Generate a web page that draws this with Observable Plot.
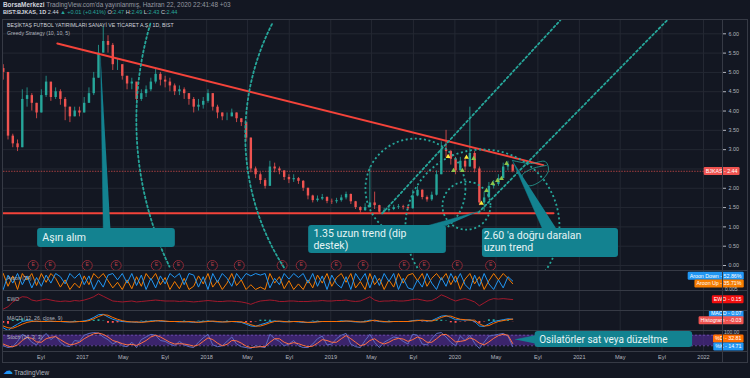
<!DOCTYPE html>
<html><head><meta charset="utf-8">
<script src="https://cdn.jsdelivr.net/npm/d3@7"></script>
<script src="https://cdn.jsdelivr.net/npm/@observablehq/plot@0.6"></script>
<style>
html,body{margin:0;padding:0;background:#131722;}
#wrap{position:relative;width:750px;height:378px;overflow:hidden;background:#131722;font-family:"Liberation Sans",Arial,sans-serif;}
#wrap svg{position:absolute;left:0;}
.t{position:absolute;white-space:nowrap;line-height:1;z-index:3;}
.ln{position:absolute;background:#363a45;z-index:2;}
</style></head><body>
<div id="wrap">
  <div class="t" style="left:3px;top:2px;font-size:6.4px;color:#9598a1"><b style="color:#d1d4dc">BorsaMerkezi</b> TradingView.com'da yayınlanmış, Haziran 22, 2020 22:41:48 +03</div>
  <div class="t" style="left:3px;top:10px;font-size:5.6px;color:#d1d4dc"><b>BIST:BJKAS, 1D</b> 2.44 <span style="color:#26a69a">▲ +0.01 (+0.41%)</span> O:<span style="color:#26a69a">2.47</span> H:<span style="color:#26a69a">2.49</span> L:<span style="color:#26a69a">2.43</span> C:<span style="color:#26a69a">2.44</span></div>
  <div class="t" style="left:7px;top:23px;font-size:5.2px;color:#d1d4dc">BEŞİKTAŞ FUTBOL YATIRIMLARI SANAYİ VE TİCARET A.Ş., 1D, BIST</div>
  <div class="t" style="left:7px;top:30.5px;font-size:5.2px;color:#b2b5be">Greedy Strategy (10, 10, 5)</div>
  <div class="t" style="left:7px;top:276px;font-size:5.2px;color:#b2b5be">Aroon (34)</div>
  <div class="t" style="left:7px;top:297px;font-size:5.2px;color:#b2b5be">EWO</div>
  <div class="t" style="left:7px;top:316px;font-size:5.2px;color:#b2b5be">MACD (12, 26, close, 9)</div>
  <div class="t" style="left:7px;top:335px;font-size:5.2px;color:#b2b5be">Stoch (14, 3, 3)</div>
  <div class="t" style="left:725px;top:286.5px;font-size:5px;color:#b2b5be">0.005</div>
  <div class="t" style="left:724px;top:329.5px;font-size:5px;color:#b2b5be">100.00</div>
  <div class="t" style="left:3px;top:366px;font-size:10px;color:#2196f3">☁</div>
  <div class="t" style="left:14px;top:370px;font-size:6.4px;color:#b2b5be">TradingView</div>
  <div class="ln" style="left:2px;top:19px;width:746px;height:1px"></div>
  <div class="ln" style="left:2px;top:362px;width:746px;height:1px"></div>
  <div class="ln" style="left:2px;top:19px;width:1px;height:344px"></div>
  <div class="ln" style="left:747px;top:19px;width:1px;height:344px"></div>
  <div class="ln" style="left:722px;top:19px;width:1px;height:344px"></div>
  <div class="ln" style="left:2px;top:270px;width:746px;height:1px"></div>
  <div class="ln" style="left:2px;top:290px;width:746px;height:1px"></div>
  <div class="ln" style="left:2px;top:310px;width:746px;height:1px"></div>
  <div class="ln" style="left:2px;top:330px;width:746px;height:1px"></div>
  <div class="ln" style="left:2px;top:351px;width:746px;height:1px"></div>
</div>
<script>
// ---------- DATA (biweekly bars) ----------
const firstDate = "2016-05-13";
const firstOpen = 5.10;
const close = [
  5.00, 3.35, 3.15, 3.05, 4.30, 4.40, 4.20, 3.95, 4.40, 4.75, 4.35, 4.50,
  4.30, 4.10, 3.85, 4.00, 3.95, 4.20, 4.45, 4.85, 5.50, 5.80, 5.70, 5.20,
  5.20, 4.90, 4.70, 4.75, 4.30, 4.45, 4.55, 4.75, 4.95, 4.80, 4.75, 4.65,
  4.50, 4.55, 4.45, 4.30, 4.10, 4.15, 4.25, 4.45, 4.10, 3.95, 3.85, 3.85,
  3.95, 3.80, 3.70, 3.30, 2.50, 2.35, 2.20, 2.05, 2.55, 2.50, 2.45, 2.28,
  2.22, 2.25, 2.18, 2.00, 1.80, 1.68, 1.72, 1.76, 1.66, 1.65, 1.68, 1.75,
  1.84, 1.65, 1.50, 1.42, 1.50, 1.62, 1.55, 1.38, 1.42, 1.45, 1.50, 1.52,
  1.50, 1.47, 1.80, 1.95, 1.76, 1.70, 1.82, 2.35, 3.00, 2.95, 2.75, 2.45,
  2.70, 2.55, 2.90, 2.50, 1.62, 1.75, 2.05, 2.10, 2.25, 2.55, 2.60, 2.44
];
const high = [
  5.20, 4.80, 3.40, 3.25, 4.55, 4.60, 4.45, 4.20, 4.55, 4.90, 4.70, 4.60,
  4.55, 4.35, 4.10, 4.10, 4.10, 4.35, 4.60, 5.00, 5.70, 6.20, 5.95, 5.75,
  5.35, 5.20, 4.90, 4.85, 4.70, 4.55, 4.65, 4.85, 5.10, 5.00, 4.90, 4.85,
  4.70, 4.65, 4.60, 4.45, 4.35, 4.30, 4.35, 4.55, 4.45, 4.15, 3.95, 3.95,
  4.05, 3.95, 3.80, 3.70, 3.30, 2.55, 2.40, 2.25, 2.70, 2.65, 2.55, 2.45,
  2.35, 2.35, 2.28, 2.20, 2.00, 1.82, 1.80, 1.84, 1.78, 1.72, 1.74, 1.82,
  1.90, 1.85, 1.66, 1.52, 1.60, 2.55, 1.90, 1.56, 1.48, 1.52, 1.56, 1.58,
  1.56, 1.55, 1.95, 2.05, 1.96, 1.80, 1.90, 2.45, 3.20, 3.50, 2.98, 2.80,
  2.80, 2.75, 4.10, 2.95, 2.55, 1.90, 2.15, 2.20, 2.35, 2.65, 2.70, 2.62
];
const low = [
  4.80, 3.25, 3.05, 2.95, 3.05, 4.10, 4.00, 3.80, 3.95, 4.35, 4.25, 4.30,
  4.15, 3.75, 3.70, 3.85, 3.85, 3.95, 4.20, 4.40, 4.85, 5.50, 5.50, 5.05,
  5.05, 4.80, 4.55, 4.55, 4.20, 4.25, 4.35, 4.50, 4.70, 4.65, 4.60, 4.50,
  4.40, 4.40, 4.30, 4.15, 3.95, 4.00, 4.05, 4.20, 4.00, 3.80, 3.75, 3.75,
  3.85, 3.70, 3.60, 3.20, 2.40, 2.25, 2.10, 1.98, 2.05, 2.40, 2.35, 2.20,
  2.12, 2.15, 2.10, 1.92, 1.70, 1.62, 1.64, 1.68, 1.60, 1.58, 1.60, 1.64,
  1.70, 1.58, 1.45, 1.36, 1.40, 1.48, 1.45, 1.33, 1.35, 1.38, 1.42, 1.45,
  1.44, 1.42, 1.46, 1.78, 1.70, 1.64, 1.66, 1.80, 2.35, 2.80, 2.60, 2.35,
  2.45, 2.45, 2.55, 2.40, 1.55, 1.40, 1.75, 1.98, 2.05, 2.25, 2.45, 2.40
];
const aroonUp = [
  100, 20, 85, 0, 100, 60, 100, 25, 100, 45, 100, 70,
  15, 60, 0, 40, 10, 85, 30, 100, 70, 100, 55, 10,
  45, 0, 60, 5, 80, 20, 100, 60, 100, 30, 75, 0,
  50, 5, 70, 0, 20, 85, 35, 100, 15, 55, 0, 40,
  100, 25, 60, 0, 30, 0, 15, 0, 100, 40, 80, 5,
  55, 0, 35, 0, 60, 10, 90, 40, 100, 20, 75, 100,
  45, 100, 10, 50, 0, 100, 30, 70, 0, 60, 15, 100,
  40, 90, 100, 55, 100, 20, 70, 100, 60, 100, 30, 85,
  0, 65, 100, 35, 80, 0, 55, 100, 60, 100, 70, 36
];
const aroonDown = [
  0, 90, 40, 100, 30, 85, 10, 75, 20, 90, 40, 100,
  80, 35, 100, 70, 100, 30, 85, 0, 60, 15, 90, 100,
  60, 100, 40, 100, 25, 90, 0, 70, 10, 85, 35, 100,
  75, 100, 30, 100, 90, 15, 80, 0, 100, 45, 100, 70,
  20, 100, 60, 100, 85, 100, 90, 100, 10, 70, 30, 100,
  65, 100, 75, 100, 40, 100, 20, 85, 0, 90, 35, 10,
  80, 0, 100, 55, 100, 10, 90, 25, 100, 50, 100, 0,
  70, 10, 0, 60, 15, 100, 40, 0, 75, 20, 100, 45,
  100, 30, 0, 90, 20, 100, 35, 0, 60, 10, 80, 53
];
const ewo = [
  -0.85, -0.6, -0.1, 0.2, 0.45, 0.4, 0.1, 0.0, 0.1, 0.2, 0.1, 0.0,
  -0.05, 0.0, -0.05, 0.05, 0.0, 0.1, 0.25, 0.45, 0.75, 0.5, 0.25, 0.0,
  -0.05, -0.1, -0.05, 0.0, -0.1, -0.05, 0.0, 0.05, 0.1, 0.05, 0.0, 0.0,
  0.0, -0.05, 0.0, -0.05, -0.1, -0.05, 0.0, 0.05, 0.0, -0.05, -0.05, 0.0,
  0.0, -0.05, -0.1, -0.2, -0.35, -0.15, 0.0, 0.05, 0.1, 0.05, -0.05, -0.05,
  0.0, 0.0, -0.05, -0.05, -0.05, 0.0, 0.0, 0.05, 0.0, 0.0, 0.05, 0.05,
  0.1, 0.0, -0.05, 0.0, 0.2, 0.45, 0.1, -0.05, 0.0, 0.0, 0.05, 0.0,
  0.0, 0.05, 0.15, 0.2, 0.1, 0.0, 0.05, 0.3, 0.65, 0.45, 0.2, 0.0,
  0.15, 0.25, 0.1, -0.1, -0.5, -0.2, 0.1, 0.25, 0.2, 0.25, 0.2, 0.15
];
const macd = [
  -0.7, -1.0, -0.6, -0.3, 0.0, 0.1, 0.05, 0.0, 0.0, 0.05, 0.0, 0.0,
  0.0, -0.05, -0.05, 0.0, 0.0, 0.05, 0.2, 0.45, 0.75, 0.8, 0.5, 0.25,
  0.1, 0.0, -0.05, -0.05, -0.1, -0.05, 0.0, 0.05, 0.1, 0.05, 0.0, 0.0,
  0.0, -0.05, 0.0, -0.05, -0.1, -0.05, 0.0, 0.05, 0.0, -0.05, -0.05, 0.0,
  0.0, -0.05, -0.1, -0.3, -0.5, -0.55, -0.35, -0.2, 0.0, 0.05, 0.0, -0.05,
  0.0, 0.0, -0.05, -0.1, -0.1, -0.05, 0.0, 0.0, 0.0, 0.0, 0.0, 0.05,
  0.05, 0.0, -0.05, -0.05, 0.0, 0.15, 0.1, 0.0, -0.05, 0.0, 0.0, 0.0,
  0.0, 0.0, 0.1, 0.15, 0.1, 0.05, 0.1, 0.35, 0.6, 0.65, 0.45, 0.2,
  0.2, 0.15, 0.2, 0.0, -0.5, -0.55, -0.25, 0.0, 0.1, 0.2, 0.3, 0.25
];
const signal = [
  -0.5, -0.7, -0.75, -0.55, -0.3, -0.1, 0.0, 0.05, 0.0, 0.0, 0.05, 0.0,
  0.0, 0.0, -0.05, -0.05, 0.0, 0.0, 0.1, 0.3, 0.55, 0.75, 0.7, 0.45,
  0.25, 0.1, 0.0, -0.05, -0.05, -0.1, -0.05, 0.0, 0.05, 0.1, 0.05, 0.0,
  0.0, 0.0, -0.05, 0.0, -0.05, -0.1, -0.05, 0.0, 0.05, 0.0, -0.05, -0.05,
  0.0, 0.0, -0.05, -0.15, -0.35, -0.5, -0.5, -0.35, -0.15, 0.0, 0.05, 0.0,
  -0.05, 0.0, 0.0, -0.05, -0.1, -0.1, -0.05, 0.0, 0.0, 0.0, 0.0, 0.0,
  0.05, 0.05, 0.0, -0.05, -0.05, 0.05, 0.15, 0.05, 0.0, -0.05, 0.0, 0.0,
  0.0, 0.0, 0.05, 0.1, 0.15, 0.1, 0.05, 0.2, 0.45, 0.6, 0.6, 0.4,
  0.25, 0.2, 0.15, 0.15, -0.25, -0.5, -0.45, -0.2, 0.0, 0.1, 0.2, 0.27
];
const stochK = [
  20, 10, 15, 45, 85, 70, 40, 25, 60, 90, 55, 75,
  40, 20, 15, 50, 45, 80, 90, 95, 92, 70, 55, 30,
  45, 20, 15, 40, 10, 55, 70, 85, 80, 50, 45, 30,
  20, 45, 25, 15, 10, 40, 65, 85, 25, 15, 20, 45,
  70, 30, 15, 10, 5, 20, 15, 10, 85, 60, 45, 20,
  30, 50, 20, 10, 10, 30, 60, 75, 25, 30, 60, 80,
  90, 30, 15, 10, 50, 85, 40, 10, 40, 55, 70, 65,
  45, 30, 85, 80, 30, 25, 60, 90, 95, 70, 40, 20,
  75, 50, 80, 35, 5, 40, 75, 80, 85, 90, 75, 15
];
const stochD = [
  30, 18, 14, 25, 50, 68, 62, 42, 40, 60, 68, 72,
  55, 38, 25, 30, 40, 60, 75, 88, 92, 85, 70, 50,
  42, 32, 25, 28, 22, 35, 50, 70, 80, 70, 55, 40,
  30, 32, 30, 25, 18, 25, 45, 65, 55, 35, 20, 28,
  50, 48, 35, 18, 10, 12, 15, 15, 40, 60, 60, 40,
  30, 38, 32, 22, 15, 18, 35, 55, 50, 40, 40, 60,
  78, 60, 40, 20, 28, 50, 60, 40, 30, 40, 55, 62,
  58, 45, 55, 70, 60, 40, 40, 60, 82, 85, 65, 42,
  45, 50, 65, 55, 35, 25, 42, 62, 78, 85, 80, 33
];
const priceTicks = [0, 0.5, 1, 1.5, 2, 2.5, 3, 3.5, 4, 4.5, 5, 5.5, 6];
const priceTickLabels = [0, 0.5, 1, 1.5, 2, 3, 3.5, 4, 4.5, 5, 5.5, 6]; // 2.50 hidden under the price badge
const timeTickDates = ["2016-09-01","2017-01-01","2017-05-01","2017-09-01","2018-01-01","2018-05-01","2018-09-01","2019-01-01","2019-05-01","2019-09-01","2020-01-01","2020-05-01","2020-09-01","2021-01-01","2021-05-01","2021-09-01","2022-01-01"];
const timeTickLabels = ["Eyl","2017","May","Eyl","2018","May","Eyl","2019","May","Eyl","2020","May","Eyl","2021","May","Eyl","2022"];
const earningsDates = ["2016-08-09","2016-09-28","2017-01-15","2017-04-10","2017-08-06","2017-10-10","2018-01-18","2018-04-07","2018-08-11","2018-10-06","2019-01-17","2019-04-06","2019-08-05","2019-10-03","2020-01-08","2020-04-15"];
const lastPrice = 2.44;

// ---------- drawings (in chart units) ----------
const trendDown = [["2016-10-19", 5.75], ["2020-09-17", 2.60]];
const support = [["2016-05-12", 1.35], ["2020-10-17", 1.35]];
const fans = [
  [["2019-06-01", 1.35], ["2020-11-06", 6.35]],
  [["2020-03-10", 1.37], ["2021-09-16", 6.35]]
];
const fibCircles = [
  {date: "2019-09-07", price: 1.99, r: 50},
  {date: "2020-02-04", price: 1.55, r: 24},
  {date: "2020-03-22", price: 1.01, r: 77}
];
const fibArcs = [
  {date: "2020-03-04", price: 3.76, r: 340},
  {date: "2020-04-14", price: 3.37, r: 245}
];
const scribble = [["2020-06-18", 2.72], ["2020-08-10", 2.64], ["2020-09-23", 2.69], ["2020-10-02", 2.46], ["2020-09-08", 2.18], ["2020-08-04", 2.07], ["2020-07-17", 2.33], ["2020-08-16", 2.51], ["2020-09-26", 2.59]];
const greedyYellow = [["2019-12-12", 2.82], ["2020-02-04", 2.80], ["2020-03-19", 1.61]];
const greedyGreen = [["2019-12-28", 2.46], ["2020-01-23", 2.46], ["2020-02-25", 2.77], ["2020-04-03", 1.94], ["2020-04-21", 2.12], ["2020-05-05", 2.20], ["2020-05-17", 2.25], ["2020-06-01", 2.64]];
const callouts = [
  {text: "Aşırı alım", tx: "2016-09-05", ty: 0.725, anchor: "middle", box: ["2016-08-22", "2017-10-01", 0.466, 0.96], wedge: [["2017-02-23", 5.41], ["2017-03-03", 0.96], ["2017-03-24", 0.96]]},
  {text: "1.35 uzun trend (dip\ndestek)", tx: "2018-11-11", ty: 0.958, anchor: "top", box: ["2018-10-28", "2019-12-07", 0.311, 1.036], wedge: [["2020-03-10", 1.40], ["2019-10-15", 1.036], ["2019-12-07", 1.036]]},
  {text: "2.60 'a doğru daralan\nuzun trend", tx: "2020-03-26", ty: 0.907, anchor: "top", box: ["2020-03-22", "2021-04-26", 0.207, 0.958], wedge: [["2020-06-18", 2.72], ["2020-09-14", 0.958], ["2020-10-25", 0.958]]}
];
const oscCallout = {text: "Osilatörler sat veya düzeltme", tx: "2020-09-05", ty: 55, box: ["2020-08-24", "2021-11-30", 10.4, 101], wedge: [["2020-06-27", 55], ["2020-08-24", 78], ["2020-08-24", 32.8]]};

// ---------- build ----------
const wrap = document.getElementById("wrap");
const D = s => new Date(s);
const dates = close.map((_, i) => d3.utcDay.offset(D(firstDate), 14 * i));
const candles = close.map((c, i) => ({date: dates[i], open: i ? close[i - 1] : firstOpen, high: high[i], low: low[i], close: c}));
const upC = candles.filter(d => d.close >= d.open), dnC = candles.filter(d => d.close < d.open);
const ind = dates.map((date, i) => ({date, up: aroonUp[i], down: aroonDown[i], ewo: ewo[i], macd: macd[i], signal: signal[i], hist: macd[i] - signal[i], k: stochK[i], d: stochD[i]}));
const timeTicks = timeTickDates.map((s, i) => ({date: D(s), label: timeTickLabels[i]}));

const W = 750, GRID = "#242833", TEXT = "#b2b5be", UP = "#26a69a", DOWN = "#ef5350", TEAL = "#26a69a", BOX = "#138290", RED = "#f4433a";
const X0 = D("2017-01-01"), X1 = D("2022-01-01");
const xOpt = {type: "utc", domain: [X0, X1], range: [82, 703], axis: null};
const pxPerMs = 621 / (X1 - X0), pxPerPrice = (245 - 13.3) / 6;
const dash = {stroke: TEAL, strokeWidth: 1.8, strokeDasharray: "2,2.6", fill: "none", clip: true};
const pts = arr => arr.map(([d, v]) => ({date: D(d), v}));

function arcPoints(a) {
  const out = [];
  for (let k = 0; k <= 120; k++) {
    const th = Math.PI / 2 + Math.PI * k / 120;
    const price = a.price + a.r * Math.sin(th) / pxPerPrice;
    const date = new Date(+D(a.date) + a.r * Math.cos(th) / pxPerMs);
    if (price > 6.34 || price < -0.12) continue;
    out.push({date, v: price});
  }
  return out;
}

function addBadges(svg) {
  svg.querySelectorAll('g[aria-description^="badge"]').forEach(g => {
    const bg = g.getAttribute("aria-description").split(" ")[1];
    g.querySelectorAll("text").forEach(t => {
      const bb = t.getBBox();
      const r = document.createElementNS("http://www.w3.org/2000/svg", "rect");
      r.setAttribute("x", bb.x - 2); r.setAttribute("y", bb.y - 1);
      r.setAttribute("width", bb.width + 4); r.setAttribute("height", bb.height + 2);
      r.setAttribute("rx", 1.2); r.setAttribute("fill", bg);
      if (t.getAttribute("transform")) r.setAttribute("transform", t.getAttribute("transform"));
      t.parentNode.insertBefore(r, t);
    });
  });
}

function pane(top, height, opts) {
  const svg = Plot.plot({
    width: W, height, marginLeft: 3, marginRight: 28, marginTop: 0, marginBottom: 0,
    x: xOpt, ...opts,
    style: {background: "transparent", color: TEXT, fontFamily: "Liberation Sans, Arial, sans-serif", fontSize: "5.4px", overflow: "hidden"}
  });
  svg.style.top = top + "px";
  wrap.insertBefore(svg, wrap.firstChild);
  addBadges(svg);
  return svg;
}
const badge = (items, bg, extra = {}) => Plot.text(items, {y: "y", text: "t", frameAnchor: "right", dx: 19, textAnchor: "end", fill: "white", fontSize: 5.3, ariaDescription: "badge " + bg, ...extra});
const vgrid = () => Plot.ruleX(timeTicks, {x: "date", stroke: GRID, strokeWidth: 1});

// main pane
const mainMarks = [
  vgrid(),
  Plot.ruleY(priceTicks, {stroke: GRID}),
  Plot.ruleY([lastPrice], {stroke: DOWN, strokeWidth: 0.8, strokeDasharray: "1.5,1.2", strokeOpacity: 0.85}),
  Plot.ruleX(upC, {x: "date", y1: "low", y2: "high", stroke: UP, strokeWidth: 0.8}),
  Plot.ruleX(dnC, {x: "date", y1: "low", y2: "high", stroke: DOWN, strokeWidth: 0.8}),
  Plot.ruleX(upC, {x: "date", y1: "open", y2: "close", stroke: UP, strokeWidth: 2.4}),
  Plot.ruleX(dnC, {x: "date", y1: "open", y2: "close", stroke: DOWN, strokeWidth: 2.4}),
  Plot.dot(earningsDates, {x: d => D(d), frameAnchor: "bottom", dy: -5, r: 5, stroke: "#8e2a36", strokeWidth: 1, fill: "#131722"}),
  Plot.text(earningsDates, {x: d => D(d), frameAnchor: "bottom", dy: -5, text: () => "E", fill: "#b8404b", fontSize: 5}),
  Plot.line(pts(trendDown), {x: "date", y: "v", stroke: RED, strokeWidth: 2, clip: true}),
  Plot.line(pts(support), {x: "date", y: "v", stroke: RED, strokeWidth: 2, clip: true}),
  ...fans.map(f => Plot.line(pts(f), {x: "date", y: "v", ...dash})),
  ...fibArcs.map(a => Plot.line(arcPoints(a), {x: "date", y: "v", ...dash})),
  ...fibCircles.map(c => Plot.dot([c], {x: d => D(d.date), y: "price", r: c.r, ...dash})),
  Plot.line(pts(scribble), {x: "date", y: "v", stroke: TEAL, strokeWidth: 0.8, curve: "catmull-rom"}),
  Plot.dot(pts(greedyYellow), {x: "date", y: "v", symbol: "triangle", r: 1.8, fill: "#ffeb3b"}),
  Plot.dot(pts(greedyGreen), {x: "date", y: "v", symbol: "triangle", r: 1.8, fill: "#8bc34a"}),
  ...callouts.flatMap(c => [
    Plot.line(pts(c.wedge), {x: "date", y: "v", fill: BOX, stroke: BOX, strokeWidth: 0.5}),
    Plot.rect([c.box], {x1: b => D(b[0]), x2: b => D(b[1]), y1: b => b[2], y2: b => b[3], fill: BOX, rx: 3}),
    Plot.text([c], {x: d => D(d.tx), y: "ty", text: "text", textAnchor: "start", lineAnchor: c.anchor, lineHeight: 1.12, fill: "#e6f4f5", fontSize: 10.5, fontFamily: "Roboto"})
  ]),
  badge([{y: lastPrice, t: "BJKAS - 2.44"}], "#ef5350", {dx: 15})
];
pane(20, 250, {y: {domain: [0, 6], range: [245, 13.3], axis: "right", ticks: priceTickLabels, tickFormat: d => d.toFixed(2), tickSize: 3, tickPadding: 3, label: null}, marks: mainMarks});

// Aroon
pane(271, 20, {y: {domain: [0, 100], range: [18, 2], axis: null}, marks: [
  vgrid(),
  Plot.line(ind, {x: "date", y: "up", stroke: "#f57c00", strokeWidth: 1}),
  Plot.line(ind, {x: "date", y: "down", stroke: "#2196f3", strokeWidth: 1}),
  badge([{y: 84, t: "Aroon Down - 52.86%"}], "#2196f3"),
  badge([{y: 35.71, t: "Aroon Up - 35.71%"}], "#f57c00")
]});

// EWO
pane(291, 20, {y: {domain: [-1, 1], range: [19, 0], axis: null}, marks: [
  vgrid(),
  Plot.line(ind, {x: "date", y: "ewo", stroke: "#a3192c", strokeWidth: 1}),
  badge([{y: 0.15, t: "EWO - 0.15"}], "#f20f0f")
]});

// MACD
pane(311, 20, {y: {domain: [-1, 1], range: [19, 1], axis: null}, marks: [
  vgrid(),
  Plot.ruleX(ind.filter(d => d.hist >= 0), {x: "date", y1: () => 0, y2: "hist", stroke: "#26a69a", strokeWidth: 2}),
  Plot.ruleX(ind.filter(d => d.hist < 0), {x: "date", y1: () => 0, y2: "hist", stroke: "#ff5252", strokeWidth: 2}),
  Plot.line(ind, {x: "date", y: "macd", stroke: "#2196f3", strokeWidth: 1}),
  Plot.line(ind, {x: "date", y: "signal", stroke: "#ff6d00", strokeWidth: 1}),
  badge([{y: 0.87, t: "MACD - 0.07"}], "#2196f3"),
  badge([{y: 0.11, t: "Histogram - -0.03"}], "#ef5350")
]});

// Stoch
pane(331, 20, {y: {domain: [0, 100], range: [17.8, 0.2], axis: null}, marks: [
  vgrid(),
  Plot.rect([{}], {y1: () => 20, y2: () => 80, fill: "#4a2a85", fillOpacity: 0.75}),
  Plot.ruleY([20, 80], {stroke: "#7e57c2", strokeDasharray: "2,2", strokeWidth: 0.7}),
  Plot.line(ind, {x: "date", y: "k", stroke: "#5c6bc0", strokeWidth: 1}),
  Plot.line(ind, {x: "date", y: "d", stroke: "#ff7043", strokeWidth: 1}),
  Plot.line(pts(oscCallout.wedge), {x: "date", y: "v", fill: BOX, stroke: BOX, strokeWidth: 0.5}),
  Plot.rect([oscCallout.box], {x1: b => D(b[0]), x2: b => D(b[1]), y1: b => b[2], y2: b => b[3], fill: BOX, rx: 3}),
  Plot.text([oscCallout], {x: d => D(d.tx), y: "ty", text: "text", textAnchor: "start", fill: "#e6f4f5", fontSize: 10, fontFamily: "Roboto"}),
  badge([{y: 59.7, t: "%D - 32.81"}], "#ff6d00"),
  badge([{y: 14.71, t: "%K - 14.71"}], "#2196f3")
]});

// time axis
pane(351, 11, {marks: [
  Plot.text(timeTicks, {x: "date", text: "label", frameAnchor: "middle", fill: TEXT, fontSize: 5.6})
]});
</script></body></html>
